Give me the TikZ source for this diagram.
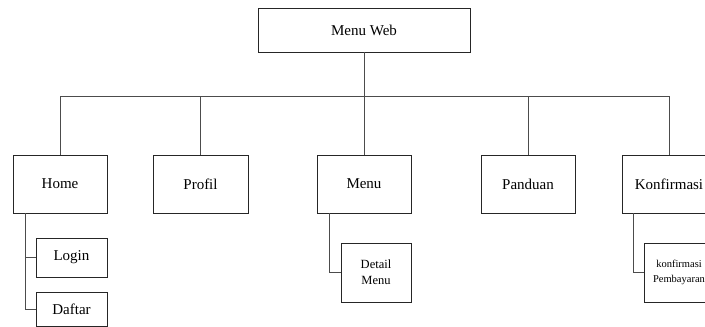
\documentclass[tikz,border=0pt]{standalone}
\usepackage{fontspec}
\setmainfont{Liberation Serif}
\begin{document}
\begin{tikzpicture}[x=1pt,y=-1pt,
  box/.style={draw=black!85,line width=0.8pt,fill=white,inner sep=1pt,align=center,font=\fontsize{15}{17}\selectfont},
  small/.style={box,font=\fontsize{11.5}{16}\selectfont},
  conn/.style={draw=black!70,line width=0.9pt}]
\useasboundingbox (0,0) rectangle (705,327);
\clip (0,0) rectangle (705,327);
\node[box,minimum width=212pt,minimum height=44pt] (web) at (364,30) {Menu Web};
\node[box,minimum width=94pt,minimum height=58pt] (home) at (60,184) {Home};
\node[box,minimum width=95pt,minimum height=58pt] (profil) at (200.5,184) {Profil};
\node[box,minimum width=94pt,minimum height=58pt] (menu) at (364,184) {Menu};
\node[box,minimum width=94pt,minimum height=58pt] (panduan) at (528,184) {Panduan};
\node[box,minimum width=94pt,minimum height=58pt] (konf) at (669,184) {Konfirmasi};
\node[box,minimum width=71pt,minimum height=39pt] (login) at (71.5,257.5) {Login};
\node[box,minimum width=71pt,minimum height=34pt] (daftar) at (71.5,309) {Daftar};
\node[small,font=\fontsize{12.5}{16}\selectfont,minimum width=70pt,minimum height=59pt] (detail) at (376,272.5) {Detail\\Menu};
\node[small,font=\fontsize{10.5}{15}\selectfont,minimum width=70pt,minimum height=59pt] (kpb) at (679,272.5) {konfirmasi\\Pembayaran};
\coordinate (busL) at (60,96);
\coordinate (busR) at (669,96);
\draw[conn] (busL) -- (busR);
\draw[conn] (web.south) -- (web.south |- busL);
\foreach \n in {home,profil,menu,panduan,konf}
  \draw[conn] (\n.north) -- (\n.north |- busL);
\coordinate (hb) at (home.south -| 25,0);
\draw[conn] (hb) |- (daftar.west);
\draw[conn] (hb |- login.west) -- (login.west);
\coordinate (mb) at (menu.south -| 329,0);
\draw[conn] (mb) |- (detail.west);
\coordinate (kb) at (konf.south -| 633,0);
\draw[conn] (kb) |- (kpb.west);
\end{tikzpicture}
\end{document}
